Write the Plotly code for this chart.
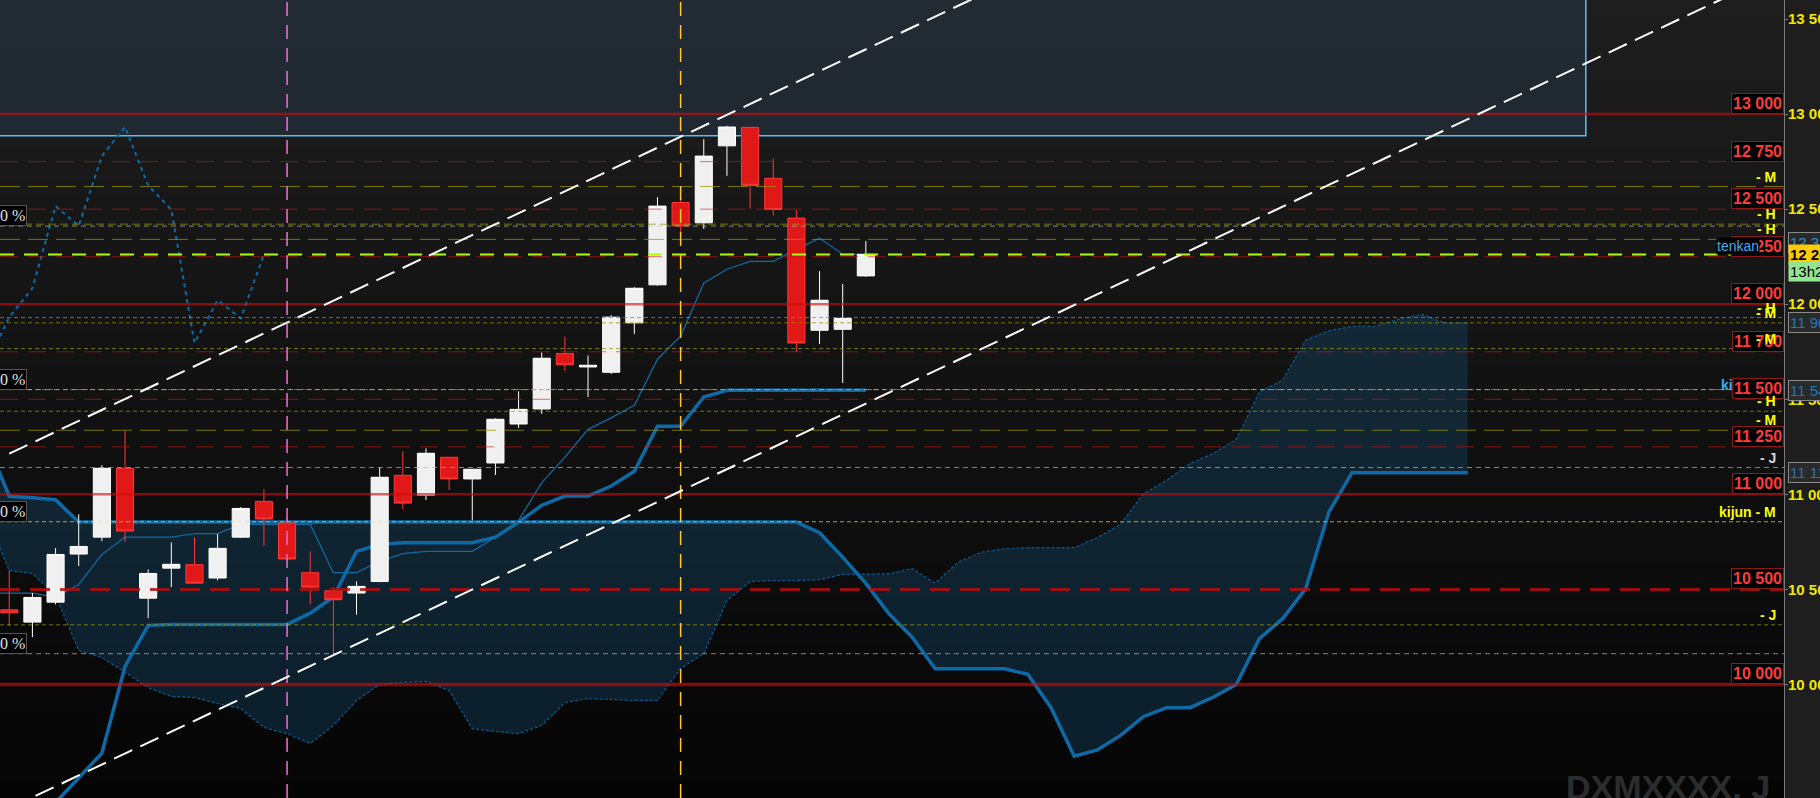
#-*- coding: utf-8 -*-

import plotly.io as pio
import plotly.graph_objects as go

pio.templates.default = "none"

# ---- candles (daily bars, index 0 = first visible bar) ----
candle_x = list(range(38))
opens = [10393, 10328, 10433, 10686, 10775, 11137, 10454, 10612, 10630, 10560,
         10775, 10963, 10849, 10588, 10493, 10481, 10542, 11100, 10996, 11195,
         11081, 11165, 11370, 11449, 11741, 11670, 11642, 11902, 12102, 12535,
         12428, 12833, 12930, 12662, 12453, 11863, 11868, 12149]
highs = [10600, 10481, 10717, 10895, 11153, 11337, 10605, 10747, 10774, 10791,
         10933, 11026, 10877, 10700, 10512, 10542, 11141, 11226, 11242, 11195,
         11132, 11400, 11542, 11746, 11830, 11730, 11942, 12090, 12563, 12563,
         12868, 12938, 12932, 12767, 12495, 12174, 12107, 12332]
lows = [10307, 10249, 10421, 10623, 10754, 10749, 10349, 10512, 10533, 10547,
        10770, 10728, 10660, 10421, 10162, 10367, 10538, 10923, 10970, 11023,
        10863, 11102, 11349, 11423, 11649, 11512, 11633, 11844, 12096, 12323,
        12396, 12675, 12502, 12467, 11749, 11791, 11586, 12144]
closes = [10377, 10458, 10684, 10726, 11137, 10807, 10584, 10632, 10533, 10716,
          10926, 10870, 10660, 10512, 10446, 10516, 11090, 10954, 11216, 11081,
          11132, 11395, 11447, 11716, 11681, 11679, 11932, 12084, 12516, 12412,
          12779, 12932, 12625, 12498, 11796, 12021, 11926, 12262]

# ---- ichimoku ----
line_x = list(range(-1, 38))
tenkan = [10481, 10481, 10481, 10460, 10526, 10684, 10775, 10775, 10775, 10793,
          10793, 10842, 10842, 10842, 10842, 10588, 10588, 10647, 10688, 10700,
          10700, 10700, 10775, 10863, 11062, 11196, 11342, 11402, 11468, 11711,
          11832, 12112, 12184, 12225, 12225, 12290, 12347, 12263, 12263]
kijun = [8990, 9116, 9247, 9379, 9511, 9639, 10095, 10311, 10316, 10316,
         10316, 10316, 10316, 10316, 10375, 10460, 10700, 10737, 10746, 10746,
         10746, 10746, 10775, 10854, 10942, 10991, 10991, 11044, 11121, 11358,
         11358, 11512, 11547, 11547, 11547, 11547, 11547, 11547, 11547]

cloud_x = list(range(-1, 64))
span_a = [10890, 10600, 10584, 10469, 10179, 10142, 10065, 9984, 9937, 9932,
          9900, 9874, 9774, 9742, 9690, 9784, 9916, 10000, 10011, 10016,
          9968, 9768, 9753, 9742, 9784, 9905, 9926, 9921, 9916, 9916,
          10084, 10163, 10442, 10542, 10547, 10547, 10551, 10579, 10579, 10582,
          10609, 10533, 10644, 10696, 10714, 10720, 10720, 10720, 10772, 10842,
          11004, 11074, 11162, 11214, 11288, 11538, 11600, 11811, 11860, 11884,
          11884, 11920, 11946, 11902, 11902]
span_b = [11284, 10990, 10982, 10972, 10854, 10854, 10854, 10854, 10854, 10854,
          10854, 10854, 10854, 10854, 10854, 10854, 10854, 10854, 10854, 10854,
          10854, 10854, 10854, 10854, 10854, 10854, 10854, 10854, 10854, 10854,
          10854, 10854, 10854, 10854, 10854, 10854, 10798, 10670, 10532, 10372,
          10249, 10083, 10083, 10083, 10083, 10053, 9878, 9623, 9656, 9732,
          9832, 9878, 9878, 9933, 10000, 10241, 10346, 10504, 10907, 11114,
          11114, 11114, 11114, 11114, 11114]

# chikou = closes plotted 26 bars back
chikou_x = list(range(-1, 12))
chikou = closes[25:]

# ---- drawings ----
round_levels = [13000, 12750, 12500, 12250, 12000, 11750, 11500, 11250, 11000, 10500, 10000]
solid_levels = [13000, 12000, 11000, 10000]
pivot_levels = [12619, 12421, 12341, 11930, 11902, 11767, 11551, 11437, 11337, 10856, 10314]
pivot_labels = ["- M", "- H", "- H", "- H", "- M", "- M", "kijun - H", "- H", "- M", "kijun - M", "- J"]
grey_levels = [12411, 11551, 11141, 10162]
fibo_levels = [12411, 11551, 10856, 10162]
fibo_labels = ["100 %", "50 %", "30 %", "10 %"]
j_level, j_label = 11141, "- J"
tenkan_mark, time_mark = 12323, "13h27"

channel_up = ([0, 40], [11214, 13513])
channel_dn = ([0, 70], [9349, 13376])
zone_x, zone_y = [-1, 68.1], [12886, 14500]
vlines_x = [12, 29]

X_RANGE = [-0.40, 76.66]
Y_RANGE = [9403, 13600]

pivot_dash = ["20px,8px", "8px,4px", "20px,8px", "4px,3px", "4px,3px", "4px,3px",
              "4px,3px", "4px,3px", "20px,8px", "4px,3px", "4px,3px"]


def fmt(v):
    return f"{v:,.0f}".replace(",", " ")


def hline(fig, y, color, width, dash, layer="above"):
    fig.add_shape(type="line", xref="paper", x0=0, x1=1, yref="y", y0=y, y1=y,
                  line=dict(color=color, width=width, dash=dash), layer=layer)


def plotly_background(fig, n=48):
    top, bot = 30, 5
    for i in range(n):
        c = round(top + (bot - top) * (i + 0.5) / n)
        fig.add_shape(type="rect", xref="paper", yref="paper",
                      x0=0, x1=1, y0=1 - (i + 1) / n, y1=1 - i / n + 0.002,
                      line_width=0, fillcolor=f"rgb({c},{c},{c})", layer="below")
    # blue zone on top
    fig.add_shape(type="rect", xref="x", yref="y", x0=zone_x[0], x1=zone_x[1],
                  y0=zone_y[0], y1=zone_y[1], fillcolor="rgba(70,130,180,0.15)",
                  line=dict(color="#5cbdf0", width=1.5), layer="below")


def plotly_ichimoku(fig):
    blue = "#0d6aa6"
    fig.add_trace(go.Scatter(x=cloud_x, y=span_b, mode="lines", line=dict(width=0),
                             hoverinfo="skip", showlegend=False))
    fig.add_trace(go.Scatter(x=cloud_x, y=span_a, mode="lines", fill="tonexty",
                             fillcolor="rgba(25,95,140,0.28)",
                             line=dict(color="#0b5c94", width=1.2, dash="3px,2px"),
                             showlegend=False))
    fig.add_trace(go.Scatter(x=cloud_x, y=span_b, mode="lines",
                             line=dict(color=blue, width=3.5), showlegend=False))
    fig.add_trace(go.Scatter(x=line_x, y=kijun, mode="lines",
                             line=dict(color=blue, width=3.5), showlegend=False))
    fig.add_trace(go.Scatter(x=line_x, y=tenkan, mode="lines",
                             line=dict(color="#14689e", width=1.3), showlegend=False))
    fig.add_trace(go.Scatter(x=chikou_x, y=chikou, mode="lines",
                             line=dict(color="#0d6aa6", width=2, dash="4px,4px"),
                             showlegend=False))


def plotly_candlestick(fig):
    # on an overlaying axis pair so the bars sit above the cloud
    fig.add_trace(go.Candlestick(x=candle_x, open=opens, high=highs, low=lows, close=closes,
                                 increasing=dict(line=dict(color="#ffffff", width=1),
                                                 fillcolor="#f0f0f0"),
                                 decreasing=dict(line=dict(color="#ff3838", width=1),
                                                 fillcolor="#e01818"),
                                 whiskerwidth=0, showlegend=False,
                                 xaxis="x2", yaxis="y2"))


def plotly_levels(fig):
    for lv in round_levels:
        if lv in solid_levels:
            hline(fig, lv, "rgba(205,15,15,0.62)", 3.5 if lv == 10000 else 2.5, "solid")
        elif lv == 10500:
            hline(fig, lv, "rgba(175,15,15,0.85)", 3, "20px,10px")
        else:
            hline(fig, lv, "rgba(210,20,20,0.6)", 1, "18px,10px")
    for lv, dash in zip(pivot_levels, pivot_dash):
        color = "rgba(225,225,95,0.7)" if lv == 10856 else "rgba(150,150,0,0.75)"
        hline(fig, lv, color, 1, dash)
    for lv in grey_levels:
        hline(fig, lv, "rgba(185,185,185,0.7)", 1, "5px,4px")
    # current price
    hline(fig, closes[-1], "#aaff00", 2, "14px,10px")

    for xv, col in zip(vlines_x, ["#ff66dd", "#ffc83c"]):
        fig.add_shape(type="line", xref="x", yref="paper", x0=xv, x1=xv, y0=0, y1=1,
                      line=dict(color=col, width=1.5, dash="14px,9px"), layer="above")

    for cx, cy in (channel_up, channel_dn):
        fig.add_shape(type="line", xref="x", yref="y", x0=cx[0], x1=cx[1] + 40,
                      y0=cy[0], y1=cy[1] + (cy[1] - cy[0]) / (cx[1] - cx[0]) * 40,
                      line=dict(color="#ffffff", width=2, dash="20px,9px"), layer="above")


def plotly_labels(fig):
    lab_x = 1778 / 1784
    font_lbl = dict(family="Liberation Sans", size=14, color="#ffff00", weight="bold")

    # kijun - H sits under the 11 500 box
    fig.add_annotation(xref="paper", x=lab_x, xanchor="right", yref="y", y=11551,
                       yanchor="bottom", yshift=-5, showarrow=False, font=font_lbl,
                       text="<span style='color:#3ab0f0'>kijun</span> - H")

    for lv in round_levels:
        fig.add_annotation(xref="paper", x=1, xanchor="right", yref="y", y=lv,
                           yanchor="bottom", showarrow=False, text=fmt(lv),
                           bgcolor="#000000", bordercolor="#8a1a1a", borderwidth=1,
                           borderpad=1,
                           font=dict(family="Liberation Sans", size=16,
                                     color="#ff3b3b", weight="bold"))

    fig.add_annotation(xref="paper", x=1716 / 1784, xanchor="left", yref="y",
                       y=closes[-1], yanchor="bottom", yshift=-1, showarrow=False,
                       text="tenkan", bgcolor="#000000", borderpad=0,
                       font=dict(family="Liberation Sans", size=14, color="#3ab0f0"))

    for lv, txt in zip(pivot_levels, pivot_labels):
        if txt == "kijun - H":
            continue
        fig.add_annotation(xref="paper", x=lab_x, xanchor="right", yref="y", y=lv,
                           yanchor="bottom", showarrow=False, text=txt, font=font_lbl)
    fig.add_annotation(xref="paper", x=lab_x, xanchor="right", yref="y", y=j_level,
                       yanchor="bottom", showarrow=False, text=j_label,
                       font=dict(font_lbl, color="#d8d8d8"))

    for lv, txt in zip(fibo_levels, fibo_labels):
        fig.add_annotation(xref="paper", x=27 / 1784, xanchor="right", yref="y", y=lv,
                           yanchor="bottom", showarrow=False, text=txt,
                           bgcolor="#000000", bordercolor="#555555", borderwidth=1,
                           borderpad=1,
                           font=dict(family="Liberation Serif", size=16, color="#e0e0e0"))

    # value marks on the price scale
    ax_x = 1788 / 1784
    marks = [(tenkan_mark, "#2f8fd0", "#2a2a2a"), (span_a[-1], "#1f78b4", "#2a2a2a"),
             (kijun[-1], "#1f78b4", "#2a2a2a"), (span_b[-1], "#1f78b4", "#2a2a2a")]
    for v, fc, bg in marks:
        fig.add_annotation(xref="paper", x=ax_x, xanchor="left", yref="y", y=v,
                           yanchor="middle", showarrow=False, text=fmt(v),
                           bgcolor=bg, bordercolor="#8a8a8a", borderwidth=1, borderpad=1,
                           font=dict(family="Liberation Sans", size=15, color=fc))
    fig.add_annotation(xref="paper", x=ax_x, xanchor="left", yref="y", y=closes[-1],
                       yanchor="middle", showarrow=False, text=fmt(closes[-1]),
                       bgcolor="#ffcc00", borderpad=1,
                       font=dict(family="Liberation Sans", size=15, color="#000000",
                                 weight="bold"))
    fig.add_annotation(xref="paper", x=ax_x, xanchor="left", yref="y", y=closes[-1],
                       yanchor="middle", yshift=-17, showarrow=False, text=time_mark,
                       bgcolor="#92e692", borderpad=1,
                       font=dict(family="Liberation Sans", size=15, color="#000000"))

    fig.add_annotation(xref="paper", x=1772 / 1784, xanchor="right", yref="paper", y=0,
                       yanchor="bottom", yshift=-10, showarrow=False, text="DXMXXXX, J",
                       font=dict(family="Liberation Sans", size=34, color="#2c2c2c",
                                 weight="bold"))


def plotly_axes(fig):
    fig.update_layout(
        xaxis=dict(visible=False, range=X_RANGE, rangeslider_visible=False),
        xaxis2=dict(visible=False, range=X_RANGE, overlaying="x",
                    rangeslider_visible=False),
        yaxis2=dict(visible=False, range=Y_RANGE, overlaying="y", side="right"),
    )
    tv = list(range(10000, 14000, 500))
    fig.update_layout(yaxis=dict(
        side="right", range=Y_RANGE, showgrid=False, zeroline=False,
        showline=True, linecolor="#7a7a7a", linewidth=1,
        ticks="outside", ticklen=3, tickcolor="#7a7a7a", ticklabelstandoff=-3,
        tickvals=tv, ticktext=[fmt(v) for v in tv],
        tickfont=dict(family="Liberation Sans", size=15, color="#f0e800", weight="bold")))


fig = go.Figure()
plotly_background(fig)
plotly_ichimoku(fig)
plotly_candlestick(fig)
plotly_levels(fig)
plotly_labels(fig)
plotly_axes(fig)

fig.update_layout(width=1820, height=798, margin=dict(l=0, r=36, t=0, b=0),
                  paper_bgcolor="#1e1e1e", plot_bgcolor="#151515",
                  boxgap=0.26, boxgroupgap=0, showlegend=False, hovermode=False)

fig.write_html("out.html", config={"displayModeBar": False},
               post_script="document.body.style.margin='0';document.body.style.overflow='hidden';")
